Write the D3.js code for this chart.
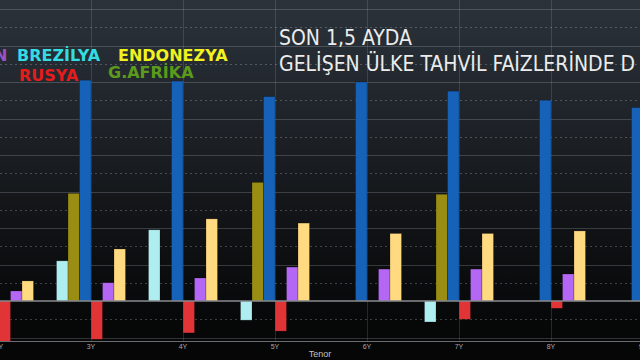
<!DOCTYPE html>
<html><head><meta charset="utf-8">
<script src="https://cdn.jsdelivr.net/npm/d3@7"></script>
<style>body{margin:0;background:#000;overflow:hidden}svg{display:block}</style>
</head><body><svg id="c" width="640" height="360"></svg>
<script>
// ---- data (basis-point changes) ----
const tenors = ["2Y","3Y","4Y","5Y","6Y","7Y","8Y","9Y"];
const seriesKeys = ["brezilya","gafrika","turkiye","rusya","mor","endonezya"];
const brezilya  = [18, 22, 39, -10.5, null, -11.5, null, null];
const gafrika   = [50, 59, null, 65, null, 58.5, null, null];
const turkiye   = [125, 121, 120.5, 112, 120, 115, 110, 106];
const rusya     = [-24, -21, -17.5, -16.5, null, -10, -4, -3];
const mor       = [5.5, 10, 12.6, 18.6, 17.5, 17.5, 14.8, 14];
const endonezya = [11, 28.5, 45, 42.7, 37, 37, 38.4, 38];
const gridValues = [-20,-10,10,20,30,40,50,60,70,80,90,100,110,120,130,140,150,160];
const legendLabels = ["N","BREZİLYA","ENDONEZYA","RUSYA","G.AFRİKA"];
const titleLines = ["SON 1,5 AYDA","GELİŞEN ÜLKE TAHVİL FAİZLERİNDE D"];
const axisTitle = "Tenor";

const seriesData = {brezilya, gafrika, turkiye, rusya, mor, endonezya};
const colors = {brezilya:"#aeeef0", gafrika:"#9b8d14", turkiye:"#1662b8", rusya:"#e03436", mor:"#b467f4", endonezya:"#ffda80"};

const svg = d3.select("#c");
const W = 640, H = 360, plotBottom = 341;

// background gradient
const defs = svg.append("defs");
const g = defs.append("linearGradient").attr("id","bg").attr("x1",0).attr("y1",0).attr("x2",0).attr("y2",1);
[[0,"#2b323a"],[0.3,"#20252b"],[0.6,"#121417"],[0.85,"#08090a"],[1,"#050505"]]
  .forEach(([o,c])=>g.append("stop").attr("offset",o).attr("stop-color",c));
svg.append("rect").attr("width",W).attr("height",H).attr("fill","url(#bg)");
defs.append("clipPath").attr("id","plot").append("rect").attr("x",0).attr("y",0).attr("width",W).attr("height",plotBottom);

const x = d3.scaleBand().domain(tenors).range([-47, 689]).padding(0);
const xs = d3.scaleBand().domain(seriesKeys).range([0, x.bandwidth()]).paddingInner(0).paddingOuter(1);
const y = d3.scaleLinear().domain([0,160]).range([301, 9]);

// grid
const grid = svg.append("g");
grid.selectAll("line.h").data(gridValues).join("line")
  .attr("x1",0).attr("x2",W)
  .attr("y1",d=>Math.round(y(d))+0.5).attr("y2",d=>Math.round(y(d))+0.5)
  .attr("stroke", d=> d%20===0 ? "rgba(200,210,220,0.22)" : "rgba(200,210,220,0.28)")
  .attr("stroke-dasharray", d=> d%20===0 ? null : "2,3");
grid.selectAll("line.v").data(tenors).join("line")
  .attr("x1",d=>Math.round(x(d)+x.bandwidth()/2)+0.5).attr("x2",d=>Math.round(x(d)+x.bandwidth()/2)+0.5)
  .attr("y1",0).attr("y2",plotBottom)
  .attr("stroke","rgba(200,210,220,0.16)");

// bars
const bars = svg.append("g").attr("clip-path","url(#plot)");
const flat = [];
seriesKeys.forEach(k => tenors.forEach((t,i) => { const v = seriesData[k][i]; if (v!==null) flat.push({k,t,v}); }));
bars.selectAll("rect").data(flat).join("rect")
  .attr("x", d=>x(d.t)+xs(d.k))
  .attr("width", xs.bandwidth())
  .attr("y", d=>Math.min(y(d.v), y(0)))
  .attr("height", d=>Math.abs(y(d.v)-y(0)))
  .attr("fill", d=>colors[d.k])
  .attr("stroke", "rgba(0,0,0,0.35)").attr("stroke-width",0.6);

// zero and bottom lines
svg.append("line").attr("x1",0).attr("x2",W).attr("y1",y(0)).attr("y2",y(0)).attr("stroke","#8a8c90").attr("stroke-width",1.5);
svg.append("line").attr("x1",0).attr("x2",W).attr("y1",plotBottom+0.5).attr("y2",plotBottom+0.5).attr("stroke","#6a6c70").attr("stroke-width",1);

// x axis
const ax = svg.append("g").attr("transform",`translate(0,${plotBottom+1})`)
  .call(d3.axisBottom(x).tickSize(0).tickPadding(2));
ax.select(".domain").remove();
ax.selectAll("text").attr("fill","#a8a8a8").attr("font-size","7px").attr("font-family","Liberation Sans, Arial, sans-serif");
svg.append("text").attr("x",320).attr("y",357).attr("text-anchor","middle")
  .attr("fill","#c0c0c0").attr("font-size","9px").attr("font-family","Liberation Sans, Arial, sans-serif").text(axisTitle);

// legend annotations
const leg = [
  {t:legendLabels[0], x:-6, y:61, c:"#9a52c8"},
  {t:legendLabels[1], x:17, y:61, c:"#35dbe2"},
  {t:legendLabels[2], x:118, y:61, c:"#f2f21e"},
  {t:legendLabels[3], x:19, y:81, c:"#e41c1c"},
  {t:legendLabels[4], x:108, y:78, c:"#5c9a1c"}
];
svg.append("g").selectAll("text").data(leg).join("text")
  .attr("x",d=>d.x).attr("y",d=>d.y).attr("fill",d=>d.c)
  .attr("font-family","DejaVu Sans, Verdana, sans-serif").attr("font-weight","bold").attr("font-size","16px")
  .text(d=>d.t);

// title
svg.append("g").selectAll("text").data(titleLines).join("text")
  .attr("x",279).attr("y",(d,i)=> i===0 ? 45 : 71)
  .attr("fill","#ececec").attr("font-family","DejaVu Sans Condensed, DejaVu Sans, sans-serif").attr("font-size","21px")
  .text(d=>d);
</script></body></html>
